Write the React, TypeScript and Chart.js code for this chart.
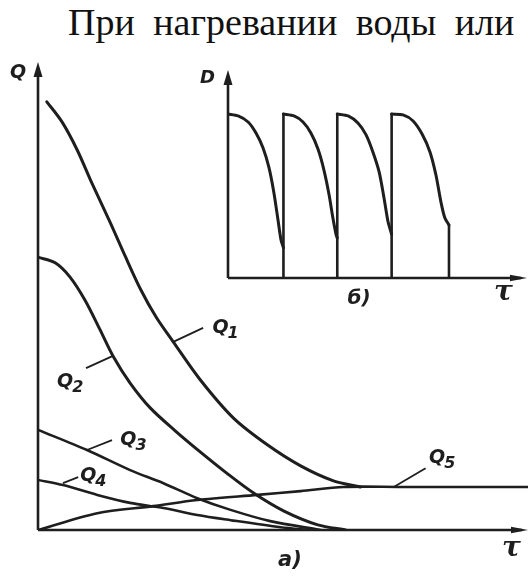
import React, { useEffect, useRef } from "react";
import { Chart, registerables } from "chart.js";
Chart.register(...registerables);

const titleText = "При нагревании воды или";

// ---- main chart (а): heat flows Q vs time τ ----
const q1X = [0.18, 0.49, 0.8, 1.1, 1.47, 1.78, 2.09, 2.41, 2.76, 3.31, 3.99, 4.68, 5.36, 6.03, 6.58];
const q1Y = [9.15, 8.72, 8.12, 7.41, 6.58, 5.85, 5.15, 4.55, 4.02, 3.21, 2.39, 1.82, 1.37, 1.05, 0.92];
const q2X = [0, 0.35, 0.65, 0.96, 1.27, 1.53, 1.88, 2.29, 2.8, 3.31, 3.87, 4.4, 5.01, 5.71, 6.28];
const q2Y = [5.83, 5.71, 5.41, 4.91, 4.27, 3.72, 3.14, 2.61, 2.12, 1.67, 1.2, 0.79, 0.41, 0.11, 0];
const q3X = [0, 1.0, 1.88, 2.56, 3.25, 3.93, 4.74, 5.77];
const q3Y = [2.14, 1.71, 1.28, 1.0, 0.68, 0.43, 0.19, 0.0];
const q4X = [0, 0.51, 1.21, 1.88, 2.56, 3.25, 3.93, 4.95, 5.56];
const q4Y = [1.07, 0.96, 0.75, 0.58, 0.47, 0.32, 0.21, 0.06, 0];
const q5X = [0, 1.21, 2.35, 3.25, 4.48, 5.36, 6.24, 7.4, 10];
const q5Y = [0, 0.36, 0.51, 0.64, 0.75, 0.83, 0.92, 0.92, 0.92];

// series labels (Q with subscript) and their leader lines, in data units
const labelSubs = ["1", "2", "3", "4", "5"];
const leaderFromX = [2.76, 1.53, 1.0, 0.51, 7.26];
const leaderFromY = [4.02, 3.72, 1.71, 1.0, 0.92];
const leaderToX = [3.37, 0.98, 1.51, 0.82, 7.91];
const leaderToY = [4.32, 3.46, 1.92, 1.13, 1.32];
const labelX = [3.56, 0.39, 1.68, 0.86, 7.98];
const labelY = [4.21, 3.06, 1.82, 1.05, 1.43];

// ---- inset chart (б): D vs time τ, four cycles ----
const c1X = [0, 0.37, 0.74, 1.03, 1.29, 1.51, 1.69, 1.84, 1.95, 2.04];
const c1Y = [7.88, 7.79, 7.5, 6.97, 6.25, 5.29, 4.09, 2.79, 1.83, 1.45];
const c2X = [2.04, 2.43, 2.76, 3.05, 3.31, 3.53, 3.72, 3.86, 3.97, 4.02];
const c2Y = [7.88, 7.79, 7.5, 6.97, 6.2, 5.19, 3.99, 2.88, 2.12, 1.92];
const c3X = [4.02, 4.42, 4.78, 5.08, 5.33, 5.56, 5.74, 5.89, 6.02];
const c3Y = [7.88, 7.79, 7.45, 6.88, 6.06, 5.1, 3.85, 2.69, 2.1];
const c4X = [6.02, 6.44, 6.81, 7.14, 7.43, 7.65, 7.84, 7.98, 8.13];
const c4Y = [7.88, 7.84, 7.55, 6.92, 6.06, 4.95, 3.61, 2.88, 2.55];
const wallX = [2.04, 4.02, 6.02, 8.13];
const wallTop = [7.88, 7.88, 7.88, 2.55];

const ink = "#1e1e1e";
const labelFont = '"DejaVu Sans"';

const pts = (xs: number[], ys: number[]) => xs.map((x, i) => ({ x, y: ys[i] }));

function arrowUp(ctx: CanvasRenderingContext2D, x: number, tip: number, len: number, half: number) {
  ctx.beginPath();
  ctx.moveTo(x, tip);
  ctx.lineTo(x - half, tip + len);
  ctx.lineTo(x + half, tip + len);
  ctx.closePath();
  ctx.fill();
}
function arrowRight(ctx: CanvasRenderingContext2D, tip: number, y: number, len: number, half: number) {
  ctx.beginPath();
  ctx.moveTo(tip, y);
  ctx.lineTo(tip - len, y - half);
  ctx.lineTo(tip - len, y + half);
  ctx.closePath();
  ctx.fill();
}
function drawAxes(ctx: CanvasRenderingContext2D, a: any) {
  ctx.lineWidth = 2.6;
  ctx.beginPath();
  ctx.moveTo(a.left, a.bottom);
  ctx.lineTo(a.left, a.top + 6);
  ctx.stroke();
  arrowUp(ctx, a.left, a.top, 15, 4.5);
  ctx.beginPath();
  ctx.moveTo(a.left, a.bottom);
  ctx.lineTo(a.right - 6, a.bottom);
  ctx.stroke();
  arrowRight(ctx, a.right, a.bottom, 17, 3.2);
}
function drawQ(ctx: CanvasRenderingContext2D, x: number, y: number, sub: string) {
  ctx.font = `italic bold 19px ${labelFont}`;
  ctx.fillText("Q", x, y);
  const w = ctx.measureText("Q").width;
  ctx.font = `italic bold 16px ${labelFont}`;
  ctx.fillText(sub, x + w - 1, y + 5);
}

const mainDecor = {
  id: "mainDecor",
  afterDatasetsDraw(chart: any) {
    const { ctx, chartArea: a, scales } = chart;
    const sx = scales.x, sy = scales.y;
    ctx.save();
    ctx.strokeStyle = ink;
    ctx.fillStyle = ink;
    drawAxes(ctx, a);
    ctx.lineWidth = 1.8;
    ctx.textBaseline = "alphabetic";
    ctx.textAlign = "left";
    labelSubs.forEach((s, i) => {
      ctx.beginPath();
      ctx.moveTo(sx.getPixelForValue(leaderFromX[i]), sy.getPixelForValue(leaderFromY[i]));
      ctx.lineTo(sx.getPixelForValue(leaderToX[i]), sy.getPixelForValue(leaderToY[i]));
      ctx.stroke();
      drawQ(ctx, sx.getPixelForValue(labelX[i]), sy.getPixelForValue(labelY[i]), s);
    });
    ctx.font = `italic bold 19px ${labelFont}`;
    ctx.fillText("Q", a.left - 28, a.top + 16);
    ctx.font = `italic bold 28px "DejaVu Serif"`;
    ctx.fillText("τ", a.right - 26, a.bottom + 26);
    ctx.font = `italic bold 21px ${labelFont}`;
    ctx.fillText("а)", sx.getPixelForValue(4.9), a.bottom + 36);
    ctx.restore();
  },
};

const insetDecor = {
  id: "insetDecor",
  afterDatasetsDraw(chart: any) {
    const { ctx, chartArea: a, scales } = chart;
    const sx = scales.x;
    ctx.save();
    ctx.strokeStyle = ink;
    ctx.fillStyle = ink;
    drawAxes(ctx, a);
    ctx.textAlign = "left";
    ctx.font = `italic bold 18px ${labelFont}`;
    ctx.fillText("D", a.left - 28, a.top + 13);
    ctx.font = `italic bold 28px "DejaVu Serif"`;
    ctx.fillText("τ", a.right - 33, a.bottom + 22);
    ctx.font = `italic bold 20px ${labelFont}`;
    ctx.fillText("б)", sx.getPixelForValue(4.4), a.bottom + 26);
    ctx.restore();
  },
};

const lineDs = (data: any[], extra: any = {}) => ({
  data,
  borderColor: ink,
  borderWidth: 3,
  pointRadius: 0,
  fill: false,
  tension: 0.3,
  borderCapStyle: "round",
  borderJoinStyle: "round",
  ...extra,
});

export default function App() {
  const mainRef = useRef<HTMLCanvasElement>(null);
  const insetRef = useRef<HTMLCanvasElement>(null);

  useEffect(() => {
    const common = {
      animation: false,
      responsive: false,
      events: [],
      plugins: { legend: { display: false }, tooltip: { enabled: false }, title: { display: false } },
    };
    const main = new Chart(mainRef.current!, {
      type: "line",
      data: {
        datasets: [
          lineDs(pts(q1X, q1Y)),
          lineDs(pts(q2X, q2Y)),
          lineDs(pts(q3X, q3Y), { borderWidth: 2.6 }),
          lineDs(pts(q4X, q4Y), { borderWidth: 2.6 }),
          lineDs(pts(q5X, q5Y), { borderWidth: 2.6 }),
        ],
      },
      options: {
        ...common,
        layout: { padding: { left: 38, right: 1, top: 62, bottom: 46 } },
        scales: {
          x: { type: "linear", min: 0, max: 10, display: false },
          y: { type: "linear", min: 0, max: 10, display: false },
        },
      } as any,
      plugins: [mainDecor],
    });

    const wallPts: any[] = [];
    wallX.forEach((x, i) => {
      wallPts.push({ x, y: 0 }, { x, y: wallTop[i] }, { x, y: null });
    });
    const inset = new Chart(insetRef.current!, {
      type: "line",
      data: {
        datasets: [
          lineDs(pts(c1X, c1Y), { tension: 0.25 }),
          lineDs(pts(c2X, c2Y), { tension: 0.25 }),
          lineDs(pts(c3X, c3Y), { tension: 0.25 }),
          lineDs(pts(c4X, c4Y), { tension: 0.25 }),
          lineDs(wallPts, { tension: 0, spanGaps: false, borderWidth: 2.6 }),
        ],
      },
      options: {
        ...common,
        layout: { padding: { left: 228, right: 2, top: 70, bottom: 298 } },
        scales: {
          x: { type: "linear", min: 0, max: 11, display: false },
          y: { type: "linear", min: 0, max: 10, display: false },
        },
      } as any,
      plugins: [insetDecor],
    });
    return () => {
      main.destroy();
      inset.destroy();
    };
  }, []);

  return (
    <div style={{ position: "fixed", left: 0, top: 0, width: 529, height: 576, background: "#fff", overflow: "hidden" }}>
      <div
        style={{
          position: "absolute",
          left: 68,
          top: 3,
          fontFamily: '"Liberation Serif", serif',
          fontSize: 38,
          lineHeight: "38px",
          wordSpacing: 9,
          color: "#111",
          whiteSpace: "nowrap",
        }}
      >
        {titleText}
      </div>
      <canvas ref={mainRef} width={529} height={576} style={{ position: "absolute", left: 0, top: 0 }} />
      <canvas ref={insetRef} width={529} height={576} style={{ position: "absolute", left: 0, top: 0 }} />
    </div>
  );
}
